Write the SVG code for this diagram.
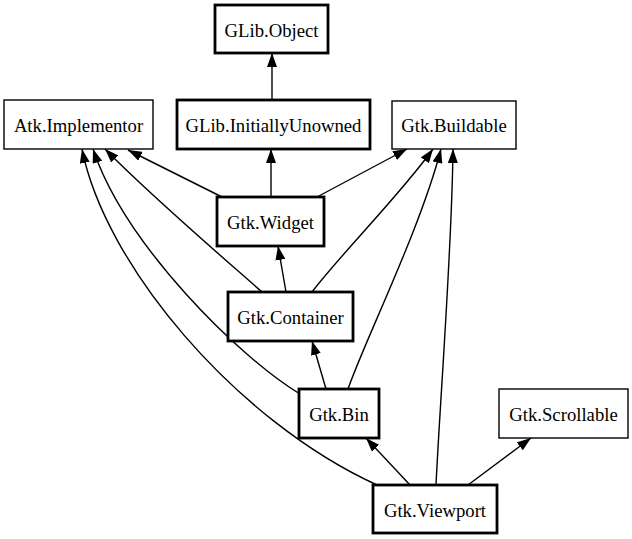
<svg xmlns="http://www.w3.org/2000/svg" width="632" height="539" viewBox="0 0 632 539">
<style>
.n rect{fill:#fff;stroke:#000}
.thin rect{stroke-width:1.4}
.thick rect{stroke-width:2.8}
.n text{font-family:"Liberation Serif","Times New Roman",serif;font-size:18.7px;text-anchor:middle;fill:#000}
.e path{fill:none;stroke:#000;stroke-width:1.4;marker-end:url(#arr)}
</style>
<defs>
<marker id="arr" markerUnits="userSpaceOnUse" markerWidth="14" markerHeight="10" viewBox="0 0 14 10" refX="14" refY="5" orient="auto">
<path d="M0,0 L14,5 L0,10 z" fill="#000"/>
</marker>
</defs>
<g id="edges" class="e">
<path d="M272,100 L272,53"/>
<path d="M271,197 L271,149"/>
<path d="M222,197 L128,150"/>
<path d="M317,197 L407,149"/>
<path d="M286,292 L278,246"/>
<path d="M262,292 C220,255 150,195 105,149"/>
<path d="M312,292 C340,255 400,195 433,149"/>
<path d="M326,389 L312,341"/>
<path d="M348,389 C365,340 420,230 441,149"/>
<path d="M300,394 C240,358 125,245 93,149"/>
<path d="M377,485 C235,420 105,265 82,149"/>
<path d="M410,485 L366,438"/>
<path d="M436,485 C440,400 452,250 453,149"/>
<path d="M468,485 L531,438"/>
</g>
<g id="GLib.Object" class="n thick"><rect x="215" y="5" width="113" height="48"/><text x="271.5" y="36.5">GLib.Object</text></g>
<g id="Atk.Implementor" class="n thin"><rect x="4" y="100" width="149" height="49"/><text x="78.5" y="132">Atk.Implementor</text></g>
<g id="GLib.InitiallyUnowned" class="n thick"><rect x="177" y="100" width="193" height="49"/><text x="273.5" y="132">GLib.InitiallyUnowned</text></g>
<g id="Gtk.Buildable" class="n thin"><rect x="392" y="101" width="124" height="48"/><text x="454" y="132">Gtk.Buildable</text></g>
<g id="Gtk.Widget" class="n thick"><rect x="217" y="197" width="107" height="49"/><text x="270.5" y="229">Gtk.Widget</text></g>
<g id="Gtk.Container" class="n thick"><rect x="228" y="292" width="125" height="49"/><text x="290.5" y="324">Gtk.Container</text></g>
<g id="Gtk.Bin" class="n thick"><rect x="299" y="389" width="80" height="49"/><text x="339" y="421">Gtk.Bin</text></g>
<g id="Gtk.Scrollable" class="n thin"><rect x="499" y="389" width="129" height="49"/><text x="563.5" y="421">Gtk.Scrollable</text></g>
<g id="Gtk.Viewport" class="n thick"><rect x="373" y="485" width="124" height="48"/><text x="435" y="516.5">Gtk.Viewport</text></g>
</svg>
